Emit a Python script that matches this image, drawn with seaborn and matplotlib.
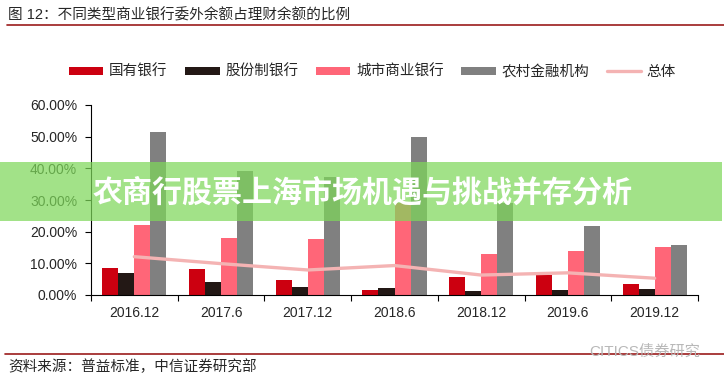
import numpy as np
import pandas as pd
import matplotlib
matplotlib.use("Agg")
import matplotlib.pyplot as plt
from matplotlib.patches import Rectangle, Patch
from matplotlib.lines import Line2D
from matplotlib.ticker import FuncFormatter, FixedLocator
import seaborn as sns

sns.set_style("white")
plt.rcParams['font.family'] = ['Liberation Sans', 'Noto Sans CJK SC', 'DejaVu Sans']

# 数据 (%)
cats = ['2016.12', '2017.6', '2017.12', '2018.6', '2018.12', '2019.6', '2019.12']
guoyou = [8.4, 8.2, 4.7, 1.6, 5.7, 6.2, 3.5]
gufen = [6.9, 4.1, 2.5, 2.2, 1.3, 1.6, 1.9]
chengshi = [22.1, 18.1, 17.7, 29.0, 13.0, 13.9, 15.2]
nongcun = [51.5, 39.2, 37.2, 49.9, 29.0, 21.8, 15.8]
zongti = [12.1, 9.9, 7.9, 9.3, 6.3, 7.0, 5.3]
series = ['国有银行', '股份制银行', '城市商业银行', '农村金融机构']
colors = ['#CC0010', '#231815', '#FF6678', '#808080']
line_color = '#F4B3B3'

df = pd.DataFrame({'日期': cats, '国有银行': guoyou, '股份制银行': gufen,
                   '城市商业银行': chengshi, '农村金融机构': nongcun})
df = df.melt(id_vars='日期', var_name='类型', value_name='比例')

fig = plt.figure(figsize=(7.24, 3.84), dpi=100)
ax = fig.add_axes([91/724, 1-295/384, (698-91)/724, (295-105)/384])

sns.barplot(data=df, x='日期', y='比例', hue='类型', hue_order=series,
            palette=colors, width=0.74, gap=0, ax=ax, legend=False,
            saturation=1, edgecolor='none')
sns.lineplot(x=np.arange(len(cats)), y=zongti, color=line_color, lw=2.4, ax=ax)

ax.set_xlim(-0.5, len(cats) - 0.5)
ax.set_ylim(0, 60)
ax.set_yticks(np.arange(0, 61, 10))
ax.yaxis.set_major_formatter(FuncFormatter(lambda v, p: '%.2f%%' % v))
ax.set_xlabel('')
ax.set_ylabel('')

# x 轴刻度在类别之间
ax.xaxis.set_major_locator(FixedLocator(np.arange(-0.5, len(cats), 1)))
ax.xaxis.set_minor_locator(FixedLocator(np.arange(len(cats))))
ax.set_xticklabels([], minor=False)
ax.set_xticklabels(cats, minor=True)
ax.tick_params(axis='x', which='major', direction='out', length=4, width=0.8,
               color='black', bottom=True)
ax.tick_params(axis='x', which='minor', length=0, pad=8, labelsize=10)
ax.tick_params(axis='y', direction='out', length=4, width=0.8, color='black',
               left=True, pad=6, labelsize=10)

for s in ['top', 'right']:
    ax.spines[s].set_visible(False)
for s in ['left', 'bottom']:
    ax.spines[s].set_color('black')
    ax.spines[s].set_linewidth(0.8)

# 图例
handles = [Patch(facecolor=c, edgecolor='none', label=n) for c, n in zip(colors, series)]
handles.append(Line2D([], [], color=line_color, lw=2.4, label='总体'))
fig.legend(handles=handles, loc='center left', bbox_to_anchor=(56/724, 1-72/384),
           ncol=5, frameon=False, fontsize=10.5, handlelength=2.35,
           handleheight=0.45, handletextpad=0.4, columnspacing=1.2)

# 标题和来源
fig.text(8/724, 1-15/384, '图 12：不同类型商业银行委外余额占理财余额的比例',
         fontsize=10.5, va='center', ha='left')
fig.add_artist(Line2D([7/724, 1], [1-25/384, 1-25/384], color='#9B1B1B', lw=1.2))
fig.add_artist(Line2D([5/724, 1], [1-354/384, 1-354/384], color='#9B1B1B', lw=1.2))
fig.text(8/724, 1-367/384, '资料来源：普益标准，中信证券研究部',
         fontsize=10.5, va='center', ha='left')
fig.text(700/724, 1-352/384, 'CITICS债券研究', fontsize=11, color='#B8B8B8',
         va='center', ha='right', zorder=12)

# 横幅
fig.add_artist(Rectangle((0, 1-221/384), 722/724, 59/384, transform=fig.transFigure,
                         facecolor='#7ED85A', alpha=0.72, edgecolor='none', zorder=10))
fig.text(93/724, 1-192/384, '农商行股票上海市场机遇与挑战并存分析', fontsize=21.6,
         fontweight='bold', color='white', va='center', ha='left', zorder=11,
         family=['Noto Sans CJK SC'])

fig.savefig('out.png', dpi=100)
